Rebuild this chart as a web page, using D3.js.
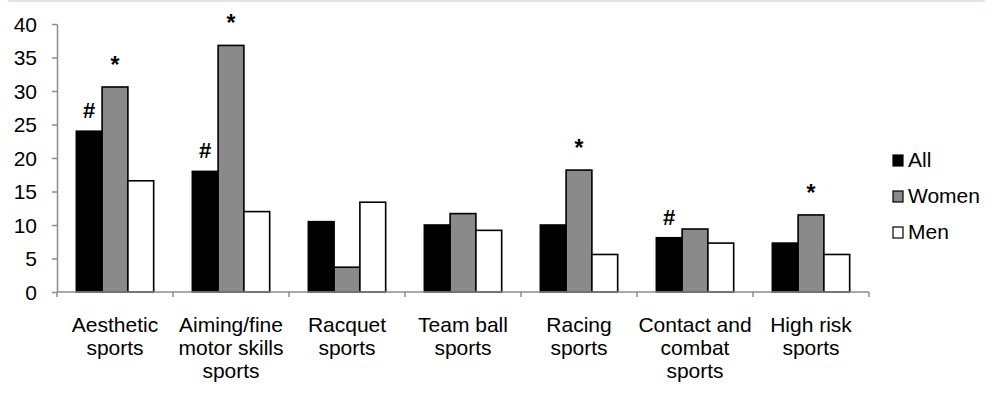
<!DOCTYPE html>
<html>
<head>
<meta charset="utf-8">
<script src="https://cdn.jsdelivr.net/npm/d3@7"></script>
<style>
  body { margin: 0; background: #fff; }
  svg text { font-family: "Liberation Sans", Arial, sans-serif; fill: #000; }
</style>
</head>
<body>
<svg id="chart" width="1000" height="394"></svg>
<script>
const categories = ['Aesthetic|sports', 'Aiming/fine|motor skills|sports', 'Racquet|sports',
  'Team ball|sports', 'Racing|sports', 'Contact and|combat|sports', 'High risk|sports'];
const seriesNames = ['All', 'Women', 'Men'];
const allValues = [24.0, 18.0, 10.5, 10.0, 10.0, 8.1, 7.3];
const womenValues = [30.6, 36.8, 3.7, 11.7, 18.2, 9.4, 11.5];
const menValues = [16.6, 12.0, 13.4, 9.2, 5.6, 7.3, 5.6];
const hashMarks = [1, 1, 0, 0, 0, 1, 0];   // '#' above All
const starMarks = [1, 1, 0, 0, 1, 0, 1];   // '*' above Women
const yTicks = [0, 5, 10, 15, 20, 25, 30, 35, 40];

const colors = { All: '#000000', Women: '#8a8a8a', Men: '#ffffff' };
const axisColor = '#8c8c8c';
const fontSize = '21px';

const svg = d3.select('#chart');

// faint frame line at the very top
svg.append('line')
  .attr('x1', 8).attr('x2', 985).attr('y1', 1).attr('y2', 1)
  .attr('stroke', '#dfe5ef').attr('stroke-width', 2);

const x = d3.scaleBand().domain(categories).range([57, 869]);
const xSub = d3.scaleBand().domain(seriesNames).range([0, x.bandwidth()]).paddingOuter(0.75);
const y = d3.scaleLinear().domain([0, 40]).range([292, 24]);

const rows = categories.map((c, i) => ({
  cat: c,
  values: [
    { key: 'All', v: allValues[i] },
    { key: 'Women', v: womenValues[i] },
    { key: 'Men', v: menValues[i] }
  ],
  hash: hashMarks[i],
  star: starMarks[i]
}));

// y axis
const yAxis = svg.append('g')
  .attr('transform', 'translate(57,0)')
  .call(d3.axisLeft(y).tickValues(yTicks).tickSize(5).tickPadding(15).tickSizeOuter(0));
yAxis.select('.domain').attr('stroke', axisColor).attr('stroke-width', 1.5);
yAxis.selectAll('.tick line').attr('stroke', axisColor).attr('stroke-width', 1.5);
yAxis.selectAll('.tick text')
  .style('font-family', '"Liberation Sans", Arial, sans-serif')
  .style('font-size', fontSize).attr('fill', '#000').attr('dy', '0.35em');

// bars
const groups = svg.append('g').selectAll('g')
  .data(rows)
  .join('g')
  .attr('transform', d => `translate(${x(d.cat)},0)`);

groups.selectAll('rect')
  .data(d => d.values)
  .join('rect')
  .attr('x', d => xSub(d.key))
  .attr('y', d => y(d.v))
  .attr('width', xSub.bandwidth())
  .attr('height', d => y(0) - y(d.v))
  .attr('fill', d => colors[d.key])
  .attr('stroke', '#000')
  .attr('stroke-width', 1.6);

// significance marks
groups.filter(d => d.hash).append('text')
  .attr('x', xSub('All') + xSub.bandwidth() / 2)
  .attr('y', d => y(d.values[0].v) - 13)
  .attr('text-anchor', 'middle')
  .style('font-size', '22px')
  .style('font-weight', 'bold')
  .text('#');

groups.filter(d => d.star).append('text')
  .attr('x', xSub('Women') + xSub.bandwidth() / 2)
  .attr('y', d => y(d.values[1].v) - 14)
  .attr('text-anchor', 'middle')
  .style('font-size', '23px')
  .style('font-weight', 'bold')
  .text('*');

// x axis
const xAxis = svg.append('g');
xAxis.append('line')
  .attr('x1', 57).attr('x2', 869).attr('y1', y(0)).attr('y2', y(0))
  .attr('stroke', axisColor).attr('stroke-width', 1.5);
const bounds = categories.map(c => x(c)).concat([x.range()[1]]);
xAxis.selectAll('line.tick')
  .data(bounds)
  .join('line')
  .attr('class', 'tick')
  .attr('x1', d => d).attr('x2', d => d)
  .attr('y1', y(0)).attr('y2', y(0) + 5)
  .attr('stroke', axisColor).attr('stroke-width', 1.5);

const labels = svg.append('g').selectAll('text')
  .data(categories)
  .join('text')
  .attr('text-anchor', 'middle')
  .attr('transform', d => `translate(${x(d) + x.bandwidth() / 2},332)`)
  .style('font-size', fontSize);
labels.selectAll('tspan')
  .data(d => d.split('|'))
  .join('tspan')
  .attr('x', 0)
  .attr('y', (d, i) => i * 23)
  .text(d => d);

// legend
const legend = svg.append('g').selectAll('g')
  .data(seriesNames)
  .join('g')
  .attr('transform', (d, i) => `translate(893,${160 + i * 36})`);
legend.append('rect')
  .attr('x', 0).attr('y', -5)
  .attr('width', 10).attr('height', 11)
  .attr('fill', d => colors[d])
  .attr('stroke', '#000').attr('stroke-width', 1.2);
legend.append('text')
  .attr('x', 15).attr('dy', '0.35em')
  .style('font-size', fontSize)
  .text(d => d);
</script>
</body>
</html>
